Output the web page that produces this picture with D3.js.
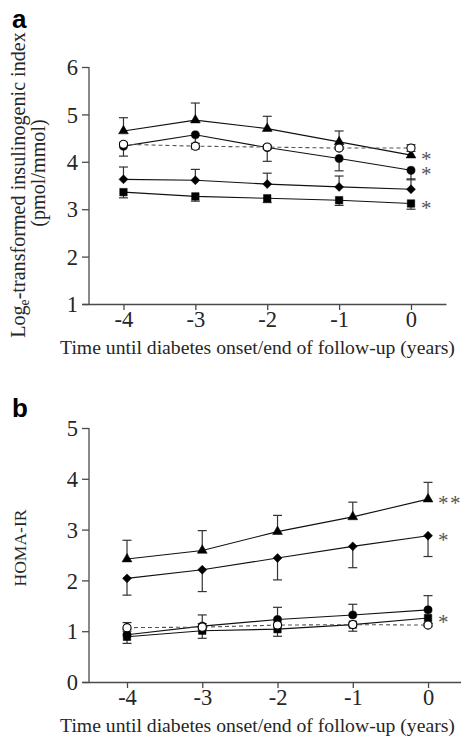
<!DOCTYPE html>
<html><head><meta charset="utf-8">
<script src="https://cdn.jsdelivr.net/npm/d3@7"></script>
<style>
html,body{margin:0;padding:0;background:#fff;}
svg{display:block;}
</style></head>
<body>
<svg id="chart" width="461" height="737"></svg>
<script>
// ---------- data ----------
const years = [-4, -3, -2, -1, 0];
const xTickLabels = ["-4", "-3", "-2", "-1", "0"];
const aYTicks = [1, 2, 3, 4, 5, 6];
const bYTicks = [0, 1, 2, 3, 4, 5];

// Panel a: log_e insulinogenic index
const aTriangle = [4.65, 4.88, 4.70, 4.42, 4.14];
const aTriangleErr = [4.93, 5.24, 4.96, 4.65, null];
const aCircle = [4.33, 4.57, 4.30, 4.07, 3.82];
const aCircleErr = [4.12, 4.30, 4.01, 3.81, 3.62];
const aOpen = [4.37, 4.33, 4.31, 4.29, 4.29];
const aOpenErrLo = [4.33, 4.27, 4.27, 4.26, 4.22];
const aOpenErrHi = [4.41, 4.39, 4.35, 4.32, 4.36];
const aDiamond = [3.63, 3.61, 3.53, 3.47, 3.42];
const aDiamondErr = [3.89, 3.84, 3.76, 3.70, 3.64];
const aSquare = [3.36, 3.27, 3.23, 3.19, 3.12];
const aSquareErr = [3.24, 3.17, 3.14, 3.08, 3.00];
const aStars = [["triangle", "*"], ["circle", "*"], ["square", "*"]];

// Panel b: HOMA-IR
const bTriangle = [2.42, 2.59, 2.96, 3.25, 3.60];
const bTriangleErr = [2.79, 2.98, 3.28, 3.54, 3.93];
const bDiamond = [2.04, 2.21, 2.44, 2.67, 2.88];
const bDiamondErr = [1.71, 1.78, 2.01, 2.25, 2.47];
const bCircle = [0.93, 1.10, 1.23, 1.32, 1.42];
const bCircleErr = [1.00, 1.32, 1.47, 1.53, 1.70];
const bSquare = [0.89, 1.01, 1.04, 1.13, 1.26];
const bSquareErr = [0.76, 0.86, 0.90, 1.00, 1.15];
const bOpen = [1.07, 1.08, 1.12, 1.13, 1.12];
const bOpenErrLo = [1.04, 1.04, 1.09, 1.10, 1.09];
const bOpenErrHi = [1.17, 1.15, 1.16, 1.16, 1.16];
const bStars = [["triangle", "***"], ["diamond", "*"], ["square", "*"]];

// ---------- drawing ----------
const svg = d3.select("#chart");
const serif = "'Liberation Serif', 'Times New Roman', serif";
const sans = "'Liberation Sans', Arial, sans-serif";
const axisColor = "#4a4a4a";
const textColor = "#262626";

// scale a text's font size so that it spans the given width
function fitWidth(sel, width) {
  const fs = parseFloat(sel.attr("font-size"));
  const w = sel.node().getComputedTextLength();
  if (w > 0) sel.attr("font-size", (fs * width / w).toFixed(2));
}

const symbols = {
  triangle: {type: d3.symbolTriangle, size: 42, rot: 0, fill: "#000"},
  circle: {type: d3.symbolCircle, size: 52, rot: 0, fill: "#000"},
  open: {type: d3.symbolCircle, size: 52, rot: 0, fill: "#fff"},
  diamond: {type: d3.symbolSquare, size: 40, rot: 45, fill: "#000"},
  square: {type: d3.symbolSquare, size: 56, rot: 0, fill: "#000"}
};

function panel(cfg) {
  const g = svg.append("g");
  const x = d3.scaleLinear().domain(cfg.xDomain).range([cfg.xLeft, cfg.xRight]);
  const y = d3.scaleLinear().domain(cfg.yDomain).range([cfg.yBottom, cfg.yTop]);

  // x axis
  const xa = g.append("g").attr("transform", `translate(0,${cfg.yBottom})`)
    .call(d3.axisBottom(x).tickValues(years).tickFormat((d, i) => xTickLabels[i]).tickSizeOuter(0).tickSizeInner(6).tickPadding(3));
  // y axis
  const ya = g.append("g").attr("transform", `translate(${cfg.yAxisX},0)`)
    .call(d3.axisLeft(y).tickValues(cfg.yTicks).tickFormat(d3.format("d")).tickSizeOuter(0).tickSizeInner(7).tickPadding(4));
  ya.select(".domain").attr("d", `M0,${y(cfg.yDomain[1])}V${y(cfg.yDomain[0])}`);
  [xa, ya].forEach(a => {
    a.selectAll("path,line").attr("stroke", axisColor).attr("stroke-width", 1.3);
    a.selectAll("text").attr("font-family", serif).attr("font-size", 22.5).attr("fill", textColor);
  });
  xa.selectAll("text").attr("dy", "0.6em");
  ya.selectAll("text").attr("dy", "0.34em");

  const line = d3.line().x((d, i) => x(years[i])).y(d => y(d));

  // lines
  cfg.series.forEach(s => {
    g.append("path").attr("d", line(s.values)).attr("fill", "none")
      .attr("stroke", s.dashed ? "#555" : "#111").attr("stroke-width", 1.1)
      .attr("stroke-dasharray", s.dashed ? "4,3" : null);
  });
  // error bars
  cfg.series.forEach(s => {
    s.values.forEach((v, i) => {
      const lo = s.errLo ? s.errLo[i] : v;
      const hi = s.errHi ? s.errHi[i] : v;
      if (lo == null || hi == null) return;
      const cx = x(years[i]);
      g.append("line").attr("x1", cx).attr("x2", cx).attr("y1", y(lo)).attr("y2", y(hi))
        .attr("stroke", "#333").attr("stroke-width", 1.2);
      [lo, hi].forEach(e => {
        if (e === v) return;
        g.append("line").attr("x1", cx - 4.5).attr("x2", cx + 4.5).attr("y1", y(e)).attr("y2", y(e))
          .attr("stroke", "#333").attr("stroke-width", 1.2);
      });
    });
  });
  // markers
  cfg.series.forEach(s => {
    const sym = symbols[s.shape];
    const gen = d3.symbol().type(sym.type).size(sym.size);
    s.values.forEach((v, i) => {
      g.append("path").attr("d", gen())
        .attr("transform", `translate(${x(years[i])},${y(v)}) rotate(${sym.rot})`)
        .attr("fill", sym.fill).attr("stroke", "#000").attr("stroke-width", s.shape === "open" ? 1.1 : 0.5);
    });
  });
  // stars
  cfg.stars.forEach(([shape, txt]) => {
    const s = cfg.series.find(d => d.shape === shape);
    g.append("text").attr("x", x(0) + 10).attr("y", y(s.values[4]) + 11)
      .attr("font-family", serif).attr("font-size", 21).attr("fill", "#555")
      .attr("letter-spacing", 1.5).text(txt);
  });

  // axis title
  const t = g.append("text").attr("x", 257.5).attr("y", cfg.xTitleY).attr("text-anchor", "middle")
    .attr("font-family", serif).attr("font-size", 19).attr("fill", textColor)
    .text("Time until diabetes onset/end of follow-up (years)");
  fitWidth(t, 395);

  // panel letter
  g.append("text").attr("x", 12).attr("y", cfg.letterY).attr("font-family", sans)
    .attr("font-weight", "bold").attr("font-size", 26).attr("fill", "#000").text(cfg.letter);
  return {g, x, y};
}

panel({
  xDomain: [-4.577, 0.487], xLeft: 82, xRight: 446,
  yDomain: [1, 6], yTop: 67, yBottom: 304, yAxisX: 89, yTicks: aYTicks,
  series: [
    {shape: "triangle", values: aTriangle, errHi: aTriangleErr},
    {shape: "diamond", values: aDiamond, errHi: aDiamondErr},
    {shape: "square", values: aSquare, errLo: aSquareErr},
    {shape: "circle", values: aCircle, errLo: aCircleErr},
    {shape: "open", values: aOpen, errLo: aOpenErrLo, errHi: aOpenErrHi, dashed: true}
  ],
  stars: aStars, xTitleY: 354, letter: "a", letterY: 28
});

panel({
  xDomain: [-4.598, 0.438], xLeft: 82, xRight: 461,
  yDomain: [0, 5], yTop: 428, yBottom: 682, yAxisX: 89, yTicks: bYTicks,
  series: [
    {shape: "triangle", values: bTriangle, errHi: bTriangleErr},
    {shape: "diamond", values: bDiamond, errLo: bDiamondErr},
    {shape: "circle", values: bCircle, errHi: bCircleErr},
    {shape: "square", values: bSquare, errLo: bSquareErr},
    {shape: "open", values: bOpen, errLo: bOpenErrLo, errHi: bOpenErrHi, dashed: true}
  ],
  stars: bStars, xTitleY: 732, letter: "b", letterY: 417
});

// y axis titles
const ta = svg.append("text").attr("transform", "translate(25,185) rotate(-90)")
  .attr("text-anchor", "middle").attr("font-family", serif).attr("font-size", 19).attr("fill", textColor);
ta.append("tspan").text("Log");
ta.append("tspan").attr("font-size", 13).attr("dy", 4).text("e");
ta.append("tspan").attr("dy", -4).text("-transformed insulinogenic index");
const fsA = 19 * 306 / ta.node().getComputedTextLength();
ta.attr("font-size", fsA.toFixed(2));
ta.select("tspan:nth-child(2)").attr("font-size", (fsA * 0.68).toFixed(2));
svg.append("text").attr("transform", "translate(45,173) rotate(-90)")
  .attr("text-anchor", "middle").attr("font-family", serif).attr("font-size", fsA.toFixed(2)).attr("fill", textColor)
  .text("(pmol/mmol)");
const hb = svg.append("text").attr("transform", "translate(26,548) rotate(-90)")
  .attr("text-anchor", "middle").attr("font-family", serif).attr("font-size", 19).attr("fill", textColor)
  .text("HOMA-IR");
fitWidth(hb, 77);
</script>
</body></html>
